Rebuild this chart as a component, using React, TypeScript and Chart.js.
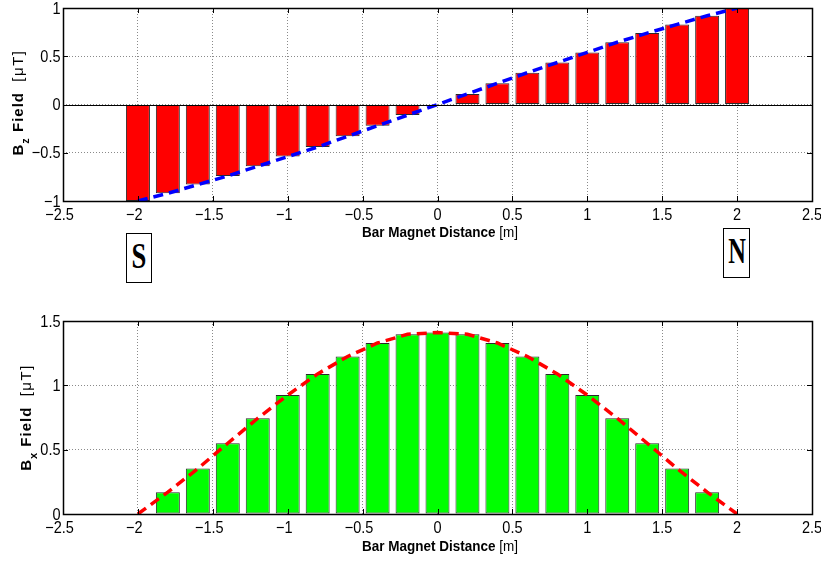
import React, { useEffect, useRef } from 'react';
import { Chart, registerables } from 'chart.js';

Chart.register(...registerables);

// ---------- data ----------
const positions = [-2, -1.8, -1.6, -1.4, -1.2, -1, -0.8, -0.6, -0.4, -0.2, 0, 0.2, 0.4, 0.6, 0.8, 1, 1.2, 1.4, 1.6, 1.8, 2];
const bzField = [-1, -0.92, -0.83, -0.74, -0.64, -0.54, -0.44, -0.33, -0.22, -0.11, 0, 0.11, 0.22, 0.33, 0.435, 0.54, 0.645, 0.74, 0.83, 0.92, 1];
const bxField = [0, 0.17, 0.353, 0.55, 0.744, 0.924, 1.089, 1.224, 1.329, 1.397, 1.41, 1.397, 1.329, 1.224, 1.089, 0.924, 0.744, 0.55, 0.353, 0.17, 0];
const xTickLabels = ['−2.5', '−2', '−1.5', '−1', '−0.5', '0', '0.5', '1', '1.5', '2', '2.5'];
const bzTickLabels = ['−1', '−0.5', '0', '0.5', '1'];
const bxTickLabels = ['0', '0.5', '1', '1.5'];
const xTitleMain = 'Bar Magnet Distance ';
const xTitleUnit = '[m]';
const bzTitle = { main: 'B', sub: 'z', rest: ' Field  ', unit: '[μT]' };
const bxTitle = { main: 'B', sub: 'x', rest: ' Field  ', unit: '[μT]' };

const SANS = '"Liberation Sans", Arial, Helvetica, sans-serif';
const TICK_FONT = `16.5px ${SANS}`;
const CONDENSE = 0.88;

type Seg = { text: string; font: string; dy: number; ls: string };

function drawSegments(ctx: CanvasRenderingContext2D, segs: Seg[], centerX: number, baseY: number) {
  let total = 0;
  const widths: number[] = [];
  segs.forEach((s) => {
    ctx.font = s.font;
    (ctx as any).letterSpacing = s.ls;
    const w = ctx.measureText(s.text).width;
    widths.push(w);
    total += w;
  });
  let x = centerX - total / 2;
  segs.forEach((s, i) => {
    ctx.font = s.font;
    (ctx as any).letterSpacing = s.ls;
    ctx.fillText(s.text, x, baseY + s.dy);
    x += widths[i];
  });
  (ctx as any).letterSpacing = '0px';
}

const framePlugin = {
  id: 'frame',
  afterDraw(chart: any, _args: any, opts: any) {
    const { ctx, chartArea: a, scales } = chart;
    const xs = scales.x;
    const ys = scales.y;
    ctx.save();
    ctx.strokeStyle = '#000';
    ctx.fillStyle = '#000';
    ctx.setLineDash([]);
    // baseline
    if (opts.baseline) {
      const y0 = Math.round(ys.getPixelForValue(0)) + 0.5;
      ctx.lineWidth = 1.2;
      ctx.beginPath();
      ctx.moveTo(a.left, y0);
      ctx.lineTo(a.right, y0);
      ctx.stroke();
    }
    // inner tick marks on all four sides
    ctx.lineWidth = 1;
    const tl = 5;
    xs.ticks.forEach((t: any) => {
      const px = Math.round(xs.getPixelForValue(t.value)) + 0.5;
      ctx.beginPath();
      ctx.moveTo(px, a.bottom);
      ctx.lineTo(px, a.bottom - tl);
      ctx.moveTo(px, a.top);
      ctx.lineTo(px, a.top + tl);
      ctx.stroke();
    });
    ys.ticks.forEach((t: any) => {
      const py = Math.round(ys.getPixelForValue(t.value)) + 0.5;
      ctx.beginPath();
      ctx.moveTo(a.left, py);
      ctx.lineTo(a.left + tl, py);
      ctx.moveTo(a.right, py);
      ctx.lineTo(a.right - tl, py);
      ctx.stroke();
    });
    // box
    ctx.lineWidth = 1.5;
    ctx.strokeRect(Math.round(a.left) + 0.5, Math.round(a.top) + 0.5, Math.round(a.right) - Math.round(a.left), Math.round(a.bottom) - Math.round(a.top));

    // tick labels (condensed Helvetica look)
    ctx.font = TICK_FONT;
    ctx.textBaseline = 'middle';
    xs.ticks.forEach((t: any, i: number) => {
      const label = xTickLabels[i];
      const px = xs.getPixelForValue(t.value) + (label.startsWith('−') ? -3.5 : 0);
      ctx.save();
      ctx.translate(px, a.bottom + opts.xTickOffset);
      ctx.scale(CONDENSE, 1);
      ctx.textAlign = 'center';
      ctx.fillText(label, 0, 0);
      ctx.restore();
    });
    ys.ticks.forEach((t: any, i: number) => {
      const label = opts.yLabels[i];
      const py = ys.getPixelForValue(t.value);
      ctx.save();
      ctx.translate(a.left - 2.5, py + 1);
      ctx.scale(CONDENSE, 1);
      ctx.textAlign = 'right';
      ctx.fillText(label, 0, 0);
      ctx.restore();
    });

    // x title
    ctx.textBaseline = 'alphabetic';
    ctx.textAlign = 'left';
    ctx.save();
    ctx.translate((a.left + a.right) / 2 + 2.5, a.bottom + opts.xTitleOffset);
    ctx.scale(0.87, 1);
    drawSegments(
      ctx,
      [
        { text: xTitleMain, font: `bold 15.5px ${SANS}`, dy: 0, ls: '0px' },
        { text: xTitleUnit, font: `15.5px ${SANS}`, dy: 0, ls: '0px' },
      ],
      0,
      0
    );
    ctx.restore();

    // y title (rotated)
    const t = opts.yTitle;
    ctx.save();
    ctx.translate(opts.yTitleX, (a.top + a.bottom) / 2 + opts.yTitleShift);
    ctx.rotate(-Math.PI / 2);
    drawSegments(
      ctx,
      [
        { text: t.main, font: `bold 15px ${SANS}`, dy: 0, ls: '1px' },
        { text: t.sub, font: `bold 11px ${SANS}`, dy: 6.5, ls: '1px' },
        { text: t.rest, font: `bold 15px ${SANS}`, dy: 0, ls: '1px' },
        { text: t.unit, font: `15px ${SANS}`, dy: 0, ls: '1.5px' },
      ],
      0,
      0
    );
    ctx.restore();
    ctx.restore();
  },
};

function makeConfig(p: {
  values: number[];
  barColor: string;
  lineColor: string;
  yMin: number;
  yMax: number;
  yLabels: string[];
  padTop: number;
  xHeight: number;
  baseline: boolean;
  yTitle: any;
  yTitleX: number;
  yTitleShift: number;
  xTitleOffset: number;
}): any {
  const lineData = positions.map((x, i) => ({ x, y: p.values[i] }));
  const barData = lineData.filter((d) => d.y !== 0);
  return {
    type: 'bar',
    data: {
      datasets: [
        {
          type: 'line',
          data: lineData,
          borderColor: p.lineColor,
          borderWidth: 3.5,
          borderDash: [10, 6],
          pointRadius: 0,
          fill: false,
          tension: 0,
          order: 0,
        },
        {
          type: 'bar',
          data: barData,
          backgroundColor: p.barColor,
          borderColor: '#2a2a2a',
          borderWidth: 1,
          borderSkipped: false,
          barPercentage: 0.8,
          categoryPercentage: 1,
          order: 1,
        },
      ],
    },
    options: {
      responsive: false,
      animation: false,
      devicePixelRatio: 1,
      events: [],
      layout: { padding: { top: p.padTop, left: 0, right: 9, bottom: 0 } },
      plugins: {
        legend: { display: false },
        tooltip: { enabled: false },
        frame: {
          baseline: p.baseline,
          yTitle: p.yTitle,
          yTitleX: p.yTitleX,
          yTitleShift: p.yTitleShift,
          xTitleOffset: p.xTitleOffset,
          xTickOffset: 14.5,
          yLabels: p.yLabels,
        },
      },
      scales: {
        x: {
          type: 'linear',
          min: -2.5,
          max: 2.5,
          offset: false,
          grid: { offset: false, color: '#8a8a8a', drawTicks: false, lineWidth: 1 },
          border: { display: false, dash: [1, 2] },
          ticks: { stepSize: 0.5, display: false, autoSkip: false },
          afterFit: (s: any) => {
            s.height = p.xHeight;
            s.paddingLeft = 0;
            s.paddingRight = 0;
          },
        },
        y: {
          type: 'linear',
          min: p.yMin,
          max: p.yMax,
          grid: { color: '#8a8a8a', drawTicks: false, lineWidth: 1 },
          border: { display: false, dash: [1, 2] },
          ticks: { stepSize: 0.5, display: false },
          afterFit: (s: any) => {
            s.width = 63;
            s.paddingTop = 0;
            s.paddingBottom = 0;
          },
        },
      },
    },
    plugins: [framePlugin],
  };
}

function ChartCanvas({ make, top, height }: { make: () => any; top: number; height: number }) {
  const ref = useRef<HTMLCanvasElement>(null);
  useEffect(() => {
    const chart = new Chart(ref.current as HTMLCanvasElement, make());
    return () => chart.destroy();
  }, []);
  return (
    <canvas
      ref={ref}
      width={821}
      height={height}
      style={{ position: 'absolute', left: 0, top, width: 821, height, display: 'block' }}
    />
  );
}

const poleBox: React.CSSProperties = {
  position: 'absolute',
  boxSizing: 'border-box',
  border: '1px solid #000',
  background: '#fff',
  display: 'flex',
  alignItems: 'center',
  justifyContent: 'center',
  fontFamily: '"Liberation Serif", "Times New Roman", serif',
  fontWeight: 'bold',
  fontSize: 36,
  lineHeight: 1,
  color: '#000',
};

export default function App() {
  return (
    <div style={{ position: 'absolute', left: 0, top: 0, width: 821, height: 561, background: '#fff', overflow: 'hidden' }}>
      <ChartCanvas
        top={0}
        height={260}
        make={() =>
          makeConfig({
            values: bzField,
            barColor: '#ff0000',
            lineColor: '#0000ff',
            yMin: -1,
            yMax: 1,
            yLabels: bzTickLabels,
            padTop: 8,
            xHeight: 59,
            baseline: true,
            yTitle: bzTitle,
            yTitleX: 22.7,
            yTitleShift: -2,
            xTitleOffset: 35.7,
          })
        }
      />
      <ChartCanvas
        top={290}
        height={271}
        make={() =>
          makeConfig({
            values: bxField,
            barColor: '#00ff00',
            lineColor: '#ff0000',
            yMin: 0,
            yMax: 1.5,
            yLabels: bxTickLabels,
            padTop: 31,
            xHeight: 47,
            baseline: false,
            yTitle: bxTitle,
            yTitleX: 30.7,
            yTitleShift: 0,
            xTitleOffset: 36.7,
          })
        }
      />
      <div style={{ ...poleBox, left: 126, top: 233, width: 26, height: 50 }}>
        <span style={{ display: 'inline-block', transform: 'scaleX(0.74) translateY(-2px)' }}>S</span>
      </div>
      <div style={{ ...poleBox, left: 723, top: 228, width: 27, height: 50 }}>
        <span style={{ display: 'inline-block', transform: 'scaleX(0.68) translateY(-2px)' }}>N</span>
      </div>
    </div>
  );
}
